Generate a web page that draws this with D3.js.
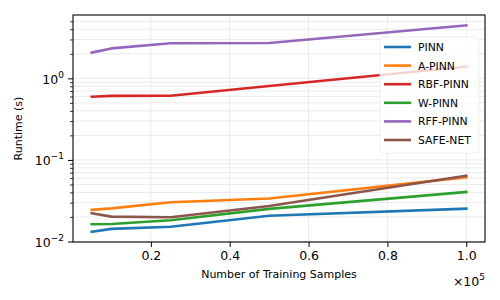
<!DOCTYPE html>
<html>
<head>
<meta charset="utf-8">
<script src="https://cdn.jsdelivr.net/npm/d3@7"></script>
<style>
  html, body { margin: 0; padding: 0; background: #fff; }
  svg { display: block; font-family: "DejaVu Sans", sans-serif; }
</style>
</head>
<body>
<svg id="chart" width="500" height="300"></svg>
<script>
// ---- data ----
const samples = [5000, 10000, 25000, 50000, 100000];
const seriesNames = ["PINN", "A-PINN", "RBF-PINN", "W-PINN", "RFF-PINN", "SAFE-NET"];
const pinn    = [0.0132, 0.0143, 0.0152, 0.0207, 0.0253];
const apinn   = [0.0244, 0.0255, 0.0303, 0.0337, 0.0614];
const rbfpinn = [0.596, 0.610, 0.613, 0.805, 1.39];
const wpinn   = [0.0163, 0.0164, 0.0182, 0.0251, 0.0405];
const rffpinn = [2.07, 2.33, 2.69, 2.71, 4.47];
const safenet = [0.0222, 0.0202, 0.0198, 0.0272, 0.0642];
const xTicks = [20000, 40000, 60000, 80000, 100000];
const yMajorTicks = [0.01, 0.1, 1];
const xLabel = "Number of Training Samples";
const yLabel = "Runtime (s)";

const allSeries = [pinn, apinn, rbfpinn, wpinn, rffpinn, safenet];
const colors = ["#1f77b4", "#ff7f0e", "#d62728", "#2ca02c", "#9467bd", "#8c564b"];

// ---- layout ----
const svg = d3.select("#chart");
const L = 73, R = 485, T = 15, B = 242;

// x domain with 5% margins
const xmin = d3.min(samples), xmax = d3.max(samples);
const xm = (xmax - xmin) * 0.05;
const x = d3.scaleLinear().domain([xmin - xm, xmax + xm]).range([L, R]);

// y log domain with 5% margins in log space
const allVals = allSeries.flat();
const lmin = Math.log10(d3.min(allVals)), lmax = Math.log10(d3.max(allVals));
const lm = (lmax - lmin) * 0.05;
const y = d3.scaleLog().domain([Math.pow(10, lmin - lm), Math.pow(10, lmax + lm)]).range([B, T]);

// minor y ticks
const yMinor = [];
for (let e = -3; e <= 1; e++) for (let k = 2; k <= 9; k++) {
  const v = k * Math.pow(10, e);
  if (v >= y.domain()[0] && v <= y.domain()[1]) yMinor.push(v);
}

// ---- grid ----
const grid = svg.append("g").attr("stroke", "#e6e6e6").attr("stroke-width", 0.8);
xTicks.forEach(v => grid.append("line").attr("x1", x(v)).attr("x2", x(v)).attr("y1", T).attr("y2", B));
yMajorTicks.concat(yMinor).forEach(v => grid.append("line").attr("x1", L).attr("x2", R).attr("y1", y(v)).attr("y2", y(v)));

// ---- lines ----
const line = d3.line().x((d, i) => x(samples[i])).y(d => y(d));
allSeries.forEach((s, i) => {
  svg.append("path").datum(s).attr("d", line)
    .attr("fill", "none").attr("stroke", colors[i]).attr("stroke-width", 2.6)
    .attr("stroke-linejoin", "round").attr("stroke-linecap", "square");
});

// ---- axes ----
const xAxis = d3.axisBottom(x).tickValues(xTicks).tickSize(5).tickPadding(4)
  .tickFormat(d => (d / 1e5).toFixed(1));
const gx = svg.append("g").attr("transform", `translate(0,${B})`).call(xAxis);
gx.select(".domain").remove();
gx.selectAll("text").attr("font-size", 12.5).attr("font-family", "DejaVu Sans").attr("fill", "#000");
gx.selectAll("line").attr("stroke", "#000").attr("stroke-width", 1);

const yAxis = d3.axisLeft(y).tickValues(yMajorTicks).tickSize(5).tickPadding(4).tickFormat("");
const gy = svg.append("g").attr("transform", `translate(${L},0)`).call(yAxis);
gy.select(".domain").remove();
gy.selectAll("line").attr("stroke", "#000").attr("stroke-width", 1);
const yAxisMinor = d3.axisLeft(y).tickValues(yMinor).tickSize(3).tickFormat("");
const gym = svg.append("g").attr("transform", `translate(${L},0)`).call(yAxisMinor);
gym.select(".domain").remove();
gym.selectAll("line").attr("stroke", "#000").attr("stroke-width", 0.8);

// y tick labels as 10^n
yMajorTicks.forEach(v => {
  const e = Math.round(Math.log10(v));
  const t = svg.append("text").attr("x", L - 9).attr("y", y(v) + 5.5)
    .attr("text-anchor", "end").attr("font-size", 12.5).attr("fill", "#000");
  t.append("tspan").text("10");
  t.append("tspan").attr("dy", -6).attr("font-size", 9).text(e === 0 ? "0" : "\u2212" + Math.abs(e));
});

// frame
svg.append("rect").attr("x", L).attr("y", T).attr("width", R - L).attr("height", B - T)
  .attr("fill", "none").attr("stroke", "#000").attr("stroke-width", 1.1);

// axis labels
svg.append("text").attr("x", (L + R) / 2).attr("y", 278).attr("text-anchor", "middle")
  .attr("font-size", 11).attr("fill", "#000").text(xLabel);
svg.append("text").attr("transform", `translate(22,${(T + B) / 2}) rotate(-90)`)
  .attr("text-anchor", "middle").attr("font-size", 11).attr("fill", "#000").text(yLabel);

// offset text x10^5
const off = svg.append("text").attr("x", R).attr("y", 286).attr("text-anchor", "end")
  .attr("font-size", 12.5).attr("fill", "#000");
off.append("tspan").text("\u00d710");
off.append("tspan").attr("dy", -6).attr("font-size", 9).text("5");

// ---- legend ----
const lg = svg.append("g");
lg.append("rect").attr("x", 380).attr("y", 37).attr("width", 99).attr("height", 116)
  .attr("rx", 3).attr("fill", "#fff").attr("fill-opacity", 0.8)
  .attr("stroke", "#ebebeb").attr("stroke-width", 0.8);
seriesNames.forEach((n, i) => {
  const yy = 47 + i * 18.6;
  lg.append("line").attr("x1", 384).attr("x2", 411).attr("y1", yy).attr("y2", yy)
    .attr("stroke", colors[i]).attr("stroke-width", 2.6);
  lg.append("text").attr("x", 418).attr("y", yy + 4).attr("font-size", 10.8).attr("fill", "#000").text(n);
});
</script>
</body>
</html>
